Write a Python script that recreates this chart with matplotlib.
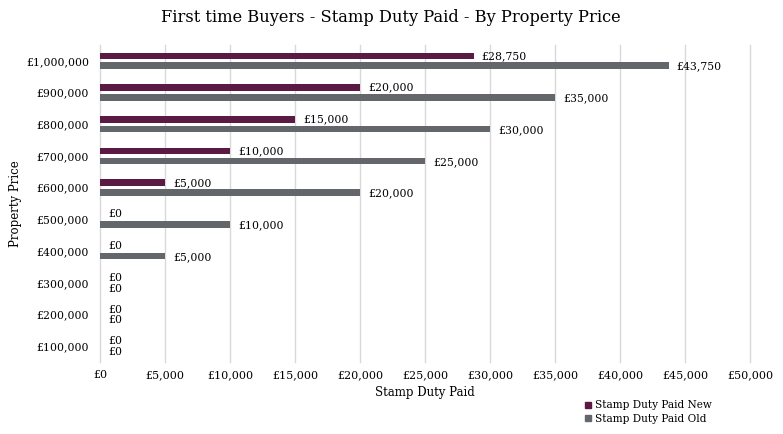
import matplotlib
matplotlib.use("Agg")
import matplotlib.pyplot as plt
import numpy as np
from matplotlib.lines import Line2D

categories = ["£100,000", "£200,000", "£300,000", "£400,000", "£500,000",
              "£600,000", "£700,000", "£800,000", "£900,000", "£1,000,000"]
duty_new = [0, 0, 0, 0, 0, 5000, 10000, 15000, 20000, 28750]
duty_old = [0, 0, 0, 5000, 10000, 20000, 25000, 30000, 35000, 43750]
xticks = list(range(0, 50001, 5000))

c_new = "#5B1A44"
c_old = "#63666A"
font = ["DejaVu Serif"]
plt.rcParams["font.family"] = font

fig = plt.figure(figsize=(7.83, 4.34), dpi=100)
ax = fig.add_axes([100/783, 1-362/434, 650/783, 317/434])

y = np.arange(len(categories))
off = 0.155
h = 0.21
ax.barh(y + off, duty_new, height=h, color=c_new, zorder=3)
ax.barh(y - off, duty_old, height=h, color=c_old, zorder=3)

def fmt(v):
    return "£{:,}".format(v)

for yi, v in zip(y, duty_new):
    ax.text(v + 600, yi + off, fmt(v), va="center", ha="left", fontsize=7.8, color="#000000")
for yi, v in zip(y, duty_old):
    ax.text(v + 600, yi - off - 0.03, fmt(v), va="center", ha="left", fontsize=7.8, color="#000000")

ax.set_xlim(0, 50000)
ax.set_ylim(-0.5, len(categories) - 0.5)
ax.set_xticks(xticks)
ax.set_xticklabels([fmt(v) for v in xticks], fontsize=8)
ax.set_yticks(y)
ax.set_yticklabels(categories, fontsize=7.8)
ax.tick_params(length=0, pad=6)
ax.tick_params(axis="y", pad=8)
ax.grid(axis="x", color="#D9D9D9", linewidth=1, zorder=0)
for gl in ax.get_xgridlines():
    gl.set_clip_on(False)
for s in ax.spines.values():
    s.set_visible(False)

ax.set_xlabel("Stamp Duty Paid", fontsize=8.5, labelpad=4)
ax.set_ylabel("Property Price", fontsize=8.5, labelpad=3)
fig.text(391/783, 1-18/434, "First time Buyers - Stamp Duty Paid - By Property Price",
         ha="center", va="center", fontsize=11.7)

handles = [Line2D([], [], marker="s", color="none", markerfacecolor=c_new, markeredgecolor=c_new, markersize=5),
           Line2D([], [], marker="s", color="none", markerfacecolor=c_old, markeredgecolor=c_old, markersize=5)]
fig.legend(handles, ["Stamp Duty Paid New", "Stamp Duty Paid Old"],
           loc="center left", bbox_to_anchor=(580/783, 1-412/434), frameon=False,
           fontsize=7.6, handlelength=0.6, handletextpad=0.3, labelspacing=0.3, borderpad=0)

fig.savefig("out.png", dpi=100)
